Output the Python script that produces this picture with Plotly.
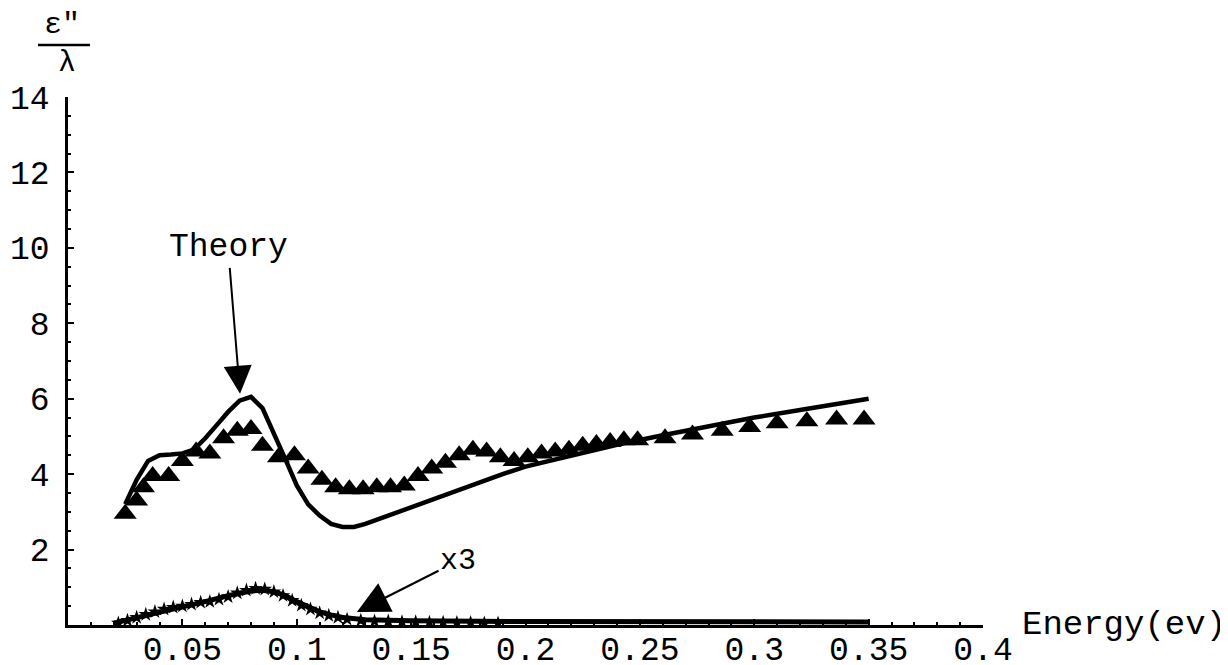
import plotly.graph_objects as go

# ---- data ----
theory_x = [0.025, 0.03, 0.035, 0.04, 0.045, 0.05, 0.055, 0.06, 0.065, 0.07, 0.075, 0.08,
            0.085, 0.09, 0.095, 0.1, 0.105, 0.11, 0.115, 0.12, 0.125, 0.13, 0.14, 0.15,
            0.16, 0.17, 0.18, 0.19, 0.2, 0.22, 0.24, 0.26, 0.28, 0.3, 0.32, 0.34, 0.35]
theory_y = [3.2, 3.85, 4.35, 4.5, 4.52, 4.55, 4.65, 4.95, 5.3, 5.65, 5.95, 6.05,
            5.75, 5.1, 4.4, 3.7, 3.2, 2.9, 2.68, 2.6, 2.6, 2.68, 2.9, 3.12,
            3.35, 3.57, 3.8, 4.0, 4.2, 4.5, 4.78, 5.03, 5.27, 5.5, 5.7, 5.9, 6.0]

exp_x = [0.025, 0.030, 0.033, 0.037, 0.044, 0.050, 0.056, 0.062, 0.068, 0.074, 0.080,
         0.085, 0.092, 0.099, 0.105, 0.111, 0.117, 0.123, 0.129, 0.135, 0.141, 0.147,
         0.153, 0.159, 0.165, 0.171, 0.177, 0.183, 0.189, 0.195, 0.201, 0.207, 0.213,
         0.219, 0.225, 0.231, 0.237, 0.243, 0.249, 0.261, 0.273, 0.286, 0.298, 0.310,
         0.323, 0.336, 0.348]
exp_y = [2.95, 3.3, 3.65, 3.95, 3.95, 4.35, 4.6, 4.55, 4.95, 5.15, 5.2,
         4.75, 4.45, 4.5, 4.15, 3.85, 3.65, 3.6, 3.6, 3.65, 3.65, 3.7,
         3.95, 4.15, 4.3, 4.5, 4.65, 4.6, 4.45, 4.35, 4.45, 4.55, 4.6,
         4.65, 4.75, 4.8, 4.85, 4.9, 4.9, 4.95, 5.05, 5.15, 5.25, 5.35,
         5.4, 5.45, 5.45]

low_theory_x = [0.02, 0.03, 0.04, 0.05, 0.06, 0.07, 0.08, 0.085, 0.09, 0.095, 0.1, 0.105,
                0.11, 0.115, 0.12, 0.13, 0.15, 0.2, 0.25, 0.3, 0.35]
low_theory_y = [0.05, 0.2, 0.36, 0.48, 0.62, 0.78, 0.9, 0.92, 0.88, 0.78, 0.62, 0.47,
                0.35, 0.27, 0.2, 0.14, 0.11, 0.09, 0.08, 0.08, 0.08]

low_exp_x = [0.022, 0.026, 0.030, 0.034, 0.038, 0.042, 0.046, 0.050, 0.054, 0.058, 0.062,
             0.066, 0.070, 0.074, 0.078, 0.082, 0.086, 0.090, 0.094, 0.098, 0.102, 0.106,
             0.110, 0.114, 0.118, 0.122, 0.128, 0.134, 0.140, 0.146, 0.152, 0.158, 0.164,
             0.170, 0.176, 0.182, 0.188]
low_exp_y = [0.05, 0.12, 0.2, 0.28, 0.35, 0.42, 0.47, 0.5, 0.55, 0.6, 0.62,
             0.68, 0.75, 0.85, 0.92, 0.97, 0.95, 0.88, 0.78, 0.65, 0.52, 0.42,
             0.32, 0.25, 0.2, 0.15, 0.12, 0.1, 0.1, 0.08, 0.08, 0.07, 0.07,
             0.06, 0.06, 0.05, 0.05]

x_tick_vals = [0.05, 0.1, 0.15, 0.2, 0.25, 0.3, 0.35, 0.4]
x_tick_text = ["0.05", "0.1", "0.15", "0.2", "0.25", "0.3", "0.35", "0.4"]
y_tick_vals = [2, 4, 6, 8, 10, 12, 14]
y_tick_text = ["2", "4", "6", "8", "10", "12", "14"]

FONT = "Liberation Mono, Courier New, monospace"

fig = go.Figure()
fig.add_trace(go.Scatter(x=low_theory_x, y=low_theory_y, mode="lines",
                         line=dict(color="black", width=5), showlegend=False))
fig.add_trace(go.Scatter(x=low_exp_x, y=low_exp_y, mode="markers",
                         marker=dict(symbol="star", size=11, color="black"), showlegend=False))
fig.add_trace(go.Scatter(x=exp_x, y=exp_y, mode="markers",
                         marker=dict(symbol="triangle-up", size=20, color="black"),
                         showlegend=False))
fig.add_trace(go.Scatter(x=theory_x, y=theory_y, mode="lines",
                         line=dict(color="black", width=4.5), showlegend=False))

axis_common = dict(showgrid=False, zeroline=False, showline=True, linecolor="black",
                   linewidth=2.5, ticks="inside", tickcolor="black", tickwidth=2,
                   ticklen=6, automargin=False,
                   tickfont=dict(family=FONT, size=33, color="black"))

fig.update_xaxes(range=[0, 0.4], tickvals=x_tick_vals, ticktext=x_tick_text,
                 minor=dict(dtick=0.01, tick0=0, ticks="inside", ticklen=3,
                            tickcolor="black", tickwidth=1.5),
                 ticklabelstandoff=-7, **axis_common)
fig.update_yaxes(range=[0, 14], tickvals=y_tick_vals, ticktext=y_tick_text,
                 minor=dict(dtick=0.5, tick0=0, ticks="inside", ticklen=3,
                            tickcolor="black", tickwidth=1.5),
                 ticklabelstandoff=9, **axis_common)

fig.add_annotation(x=0.0752, y=6.13, ax=0.070, ay=10.0, axref="x", ayref="y",
                   text="Theory", showarrow=True, arrowhead=2, arrowwidth=2,
                   arrowsize=2.8, arrowcolor="black",
                   font=dict(family=FONT, size=33, color="black"))
fig.add_annotation(x=0.1263, y=0.345, ax=0.1705, ay=1.70, axref="x", ayref="y",
                   text="x3", showarrow=True, arrowhead=2, arrowwidth=2,
                   arrowsize=3.2, arrowcolor="black",
                   font=dict(family=FONT, size=30, color="black"))
fig.add_annotation(xref="paper", yref="paper", x=1.0404, y=0.0, xanchor="left",
                   yanchor="middle", text="Energy(ev)", showarrow=False,
                   font=dict(family=FONT, size=34, color="black"))
fig.add_annotation(xref="paper", yref="paper", x=-0.0066, y=1.136, xanchor="center",
                   yanchor="middle", text="ε\u2033", showarrow=False,
                   font=dict(family=FONT, size=30, color="black"))
fig.add_annotation(xref="paper", yref="paper", x=-0.001, y=1.064, xanchor="center",
                   yanchor="middle", text="λ", showarrow=False,
                   font=dict(family=FONT, size=30, color="black"))
fig.add_shape(type="line", xref="paper", yref="paper", x0=-0.0328, x1=0.024,
              y0=1.0985, y1=1.0985, line=dict(color="black", width=2.5))

# the page body adds an 8 px offset, so the figure is 8 px smaller and margins shifted
fig.update_layout(width=1220, height=657, margin=dict(l=60, r=245, t=89, b=40),
                  plot_bgcolor="white", paper_bgcolor="white", showlegend=False)

fig.write_html("out.html")
